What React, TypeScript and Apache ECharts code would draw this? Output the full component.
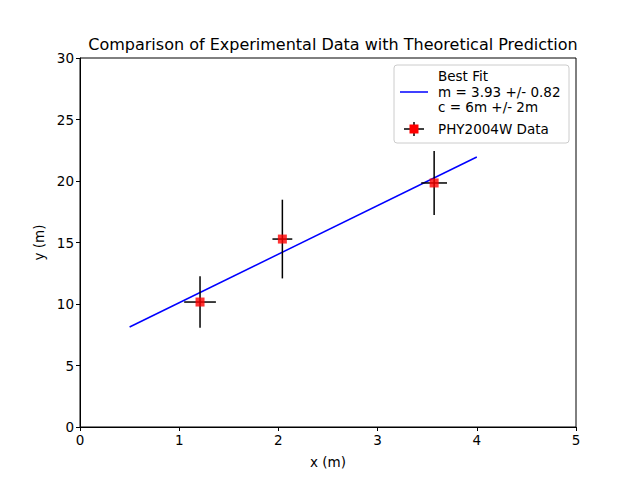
import React, { useEffect, useRef } from "react";
import * as echarts from "echarts";

const xs = [1.21, 2.04, 3.57];
const ys = [10.16, 15.28, 19.84];
const xerr = [0.16, 0.1, 0.13];
const yerr = [2.1, 3.2, 2.6];
const fitX = [0.5, 4.0];
const fitY = [8.13, 21.95];
const xTicks = [0, 1, 2, 3, 4, 5];
const yTicks = [0, 5, 10, 15, 20, 25, 30];
const legendLines = ["Best Fit", "m = 3.93 +/- 0.82", "c = 6m +/- 2m"];
const legendData = "PHY2004W Data";

export default function App() {
  const ref = useRef<HTMLDivElement>(null);
  useEffect(() => {
    document.body.style.margin = "0";
    const chart = echarts.init(ref.current!, null, { renderer: "svg" });
    const font = "DejaVu Sans";
    const errData = xs.map((x, i) => [x, ys[i], xerr[i], yerr[i]]);
    chart.setOption({
      animation: false,
      textStyle: { fontFamily: font },
      title: {
        text: "Comparison of Experimental Data with Theoretical Prediction",
        left: 328, top: 31, textAlign: "center",
        textStyle: { fontFamily: font, fontSize: 16, fontWeight: "normal", color: "#000" },
      },
      grid: { left: 80, right: 64, top: 58, bottom: 53, show: true, borderColor: "#000", borderWidth: 1, backgroundColor: "transparent" },
      xAxis: {
        type: "value", min: 0, max: 5, interval: 1,
        name: "x (m)", nameLocation: "middle", nameGap: 28,
        nameTextStyle: { fontSize: 13.5, color: "#000" },
        axisLine: { show: true, onZero: false, lineStyle: { color: "#000" } },
        axisTick: { show: true, length: 4, lineStyle: { color: "#000" } },
        axisLabel: { fontSize: 13.5, color: "#000", margin: 6 },
        splitLine: { show: false },
      },
      yAxis: {
        type: "value", min: 0, max: 30, interval: 5,
        name: "y (m)", nameLocation: "middle", nameGap: 34,
        nameTextStyle: { fontSize: 13.5, color: "#000" },
        axisLine: { show: true, onZero: false, lineStyle: { color: "#000" } },
        axisTick: { show: true, length: 4, lineStyle: { color: "#000" } },
        axisLabel: { fontSize: 13.5, color: "#000", margin: 6 },
        splitLine: { show: false },
      },
      series: [
        {
          type: "line", data: fitX.map((x, i) => [x, fitY[i]]),
          showSymbol: false, lineStyle: { color: "#0000ff", width: 1.5 }, z: 2,
        },
        {
          type: "custom", data: errData, z: 3,
          renderItem: (params: any, api: any) => {
            const x = api.value(0), y = api.value(1), dx = api.value(2), dy = api.value(3);
            const l = api.coord([x - dx, y]);
            const r = api.coord([x + dx, y]);
            const t = api.coord([x, y + dy]);
            const b = api.coord([x, y - dy]);
            const st = { stroke: "#000", lineWidth: 1.5 };
            return {
              type: "group",
              children: [
                { type: "line", shape: { x1: l[0], y1: l[1], x2: r[0], y2: r[1] }, style: st },
                { type: "line", shape: { x1: t[0], y1: t[1], x2: b[0], y2: b[1] }, style: st },
              ],
            };
          },
        },
        {
          type: "scatter", data: xs.map((x, i) => [x, ys[i]]),
          symbol: "rect", symbolSize: 9, itemStyle: { color: "#ff0000" }, z: 4,
        },
      ],
      graphic: [
        { type: "rect", shape: { x: 394, y: 65, width: 175, height: 78, r: 3 },
          style: { fill: "rgba(255,255,255,0.8)", stroke: "#ccc", lineWidth: 1 } },
        { type: "line", shape: { x1: 400, y1: 92, x2: 428, y2: 92 }, style: { stroke: "#0000ff", lineWidth: 1.5 } },
        ...legendLines.map((s, i) => ({
          type: "text", x: 438, y: 69 + i * 15.5,
          style: { text: s, fontFamily: font, fontSize: 13.5, fill: "#000" },
        })),
        { type: "line", shape: { x1: 404, y1: 129, x2: 424, y2: 129 }, style: { stroke: "#000", lineWidth: 1.5 } },
        { type: "line", shape: { x1: 414, y1: 122, x2: 414, y2: 136 }, style: { stroke: "#000", lineWidth: 1.5 } },
        { type: "rect", shape: { x: 409.5, y: 124.5, width: 9, height: 9 }, style: { fill: "#ff0000" } },
        { type: "text", x: 438, y: 122, style: { text: legendData, fontFamily: font, fontSize: 13.5, fill: "#000" } },
      ],
    });
    return () => chart.dispose();
  }, []);
  return <div ref={ref} style={{ width: 640, height: 480 }} />;
}
